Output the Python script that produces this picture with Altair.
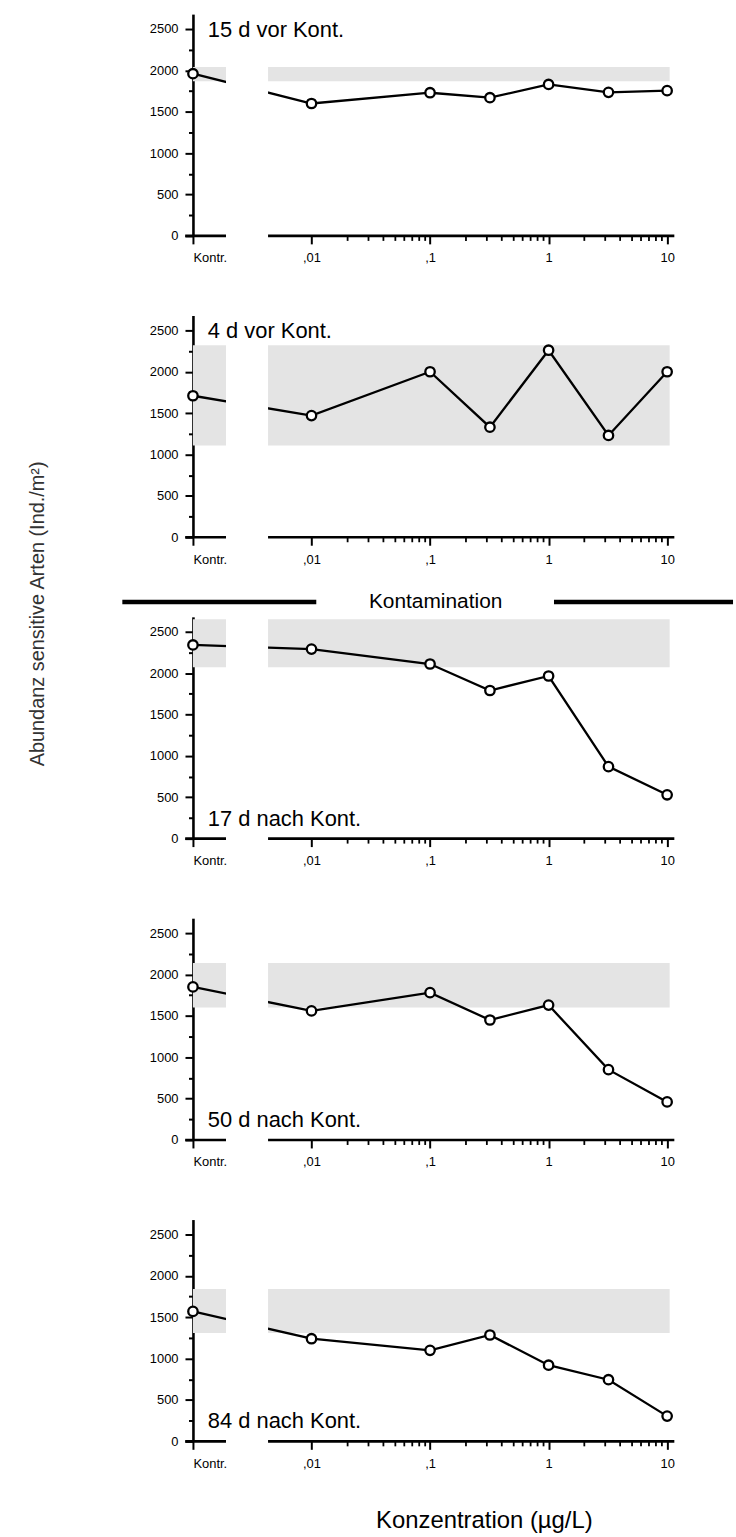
import altair as alt
import pandas as pd

# ---------------- data ----------------
PANEL_LABELS = ["15 d vor Kont.", "4 d vor Kont.", "17 d nach Kont.",
                "50 d nach Kont.", "84 d nach Kont."]
LABEL_POS = ["top", "top", "bottom", "bottom", "bottom"]
CONC = [0.01, 0.1, 0.32, 1, 3.2, 10]
CONTROL = [1960, 1710, 2340, 1850, 1570]
VALUES = [
    [1600, 1730, 1670, 1830, 1735, 1755],
    [1470, 2000, 1330, 2260, 1230, 2000],
    [2290, 2110, 1790, 1965, 870, 530],
    [1560, 1780, 1450, 1630, 850, 460],
    [1240, 1100, 1285, 920, 745, 305],
]
BAND_LO = [1870, 1110, 2070, 1600, 1310]
BAND_HI = [2040, 2320, 2650, 2140, 1840]
Y_TICKS = [0, 500, 1000, 1500, 2000, 2500]
Y_MINOR = [250, 750, 1250, 1750, 2250]
X_TICKS = [0.001, 0.01, 0.1, 1, 10]
X_TICK_LABELS = ["Kontr.", ",01", ",1", "1", "10"]
X_MINOR = [2, 3, 4, 5, 6, 7, 8, 9]
X_DECADES = [0.01, 0.1, 1]
Y_TITLE = "Abundanz sensitive Arten (Ind./m²)"
X_TITLE = "Konzentration (µg/L)"
SEP_TEXT = "Kontamination"

# ---------------- layout constants ----------------
CTRL_X = 0.001
XMIN, XMAX = 0.001, 11.5
AXIS_LEFT = 0.00086
BREAK_LO, BREAK_HI = 0.0019, 0.0043
BAND_RIGHT = 10.5
YMAX = 2680
W, H = 484, 223
FONT = "Liberation Sans"
GRAY = "#e4e4e4"

xs = alt.Scale(type="log", domain=[XMIN, XMAX])
ys = alt.Scale(domain=[0, YMAX])

minor_x = [round(m * d, 4) for d in X_DECADES for m in X_MINOR]

label_expr = ""
for v, t in zip(X_TICKS[:-1], X_TICK_LABELS[:-1]):
    label_expr += f"datum.value < {v * 3} ? '{t}' : "
label_expr += f"'{X_TICK_LABELS[-1]}'"

x_major = alt.Axis(orient="bottom", values=X_TICKS, labelExpr=label_expr,
                   domain=False, grid=False, title=None, tickSize=8, tickWidth=2,
                   tickColor="black", labelFont=FONT, labelFontSize=13,
                   labelColor="black", labelPadding=8)
x_minor = alt.Axis(orient="bottom", values=minor_x, labels=False, domain=False,
                   grid=False, title=None, tickSize=4.5, tickWidth=1.8,
                   tickColor="black")
y_major = alt.Axis(orient="left", values=Y_TICKS, format="d", domain=True,
                   domainWidth=2.6, domainColor="black", grid=False, title=None,
                   tickSize=8, tickWidth=2, tickColor="black", labelFont=FONT,
                   labelFontSize=13, labelColor="black", labelPadding=7)
y_minor = alt.Axis(orient="left", values=Y_MINOR, labels=False, domain=False,
                   grid=False, title=None, tickSize=4.5, tickWidth=2,
                   tickColor="black")


def panel(i):
    pts = pd.DataFrame({"conc": [CTRL_X] + CONC,
                        "abund": [CONTROL[i]] + VALUES[i]})
    band_df = pd.DataFrame({"x0": [XMIN], "x1": [BAND_RIGHT],
                            "lo": [BAND_LO[i]], "hi": [BAND_HI[i]]})
    gap_df = pd.DataFrame({"x0": [BREAK_LO], "x1": [BREAK_HI],
                           "lo": [0], "hi": [YMAX]})
    seg_df = pd.DataFrame({"x0": [AXIS_LEFT, BREAK_HI], "x1": [BREAK_LO, XMAX],
                           "y": [0, 0]})
    lab_df = pd.DataFrame({"t": [PANEL_LABELS[i]]})

    band = alt.Chart(band_df).mark_rect(color=GRAY).encode(
        x=alt.X("x0:Q", scale=xs, axis=x_major), x2="x1:Q",
        y=alt.Y("lo:Q", scale=ys, axis=y_major), y2="hi:Q")
    line = alt.Chart(pts).mark_line(color="black", strokeWidth=2.3).encode(
        x=alt.X("conc:Q", scale=xs, axis=x_minor),
        y=alt.Y("abund:Q", scale=ys, axis=y_minor))
    gap = alt.Chart(gap_df).mark_rect(color="white").encode(
        x=alt.X("x0:Q", scale=xs, axis=None), x2="x1:Q",
        y=alt.Y("lo:Q", scale=ys, axis=None), y2="hi:Q")
    segs = alt.Chart(seg_df).mark_rule(color="black", strokeWidth=2.6).encode(
        x=alt.X("x0:Q", scale=xs, axis=None), x2="x1:Q",
        y=alt.Y("y:Q", scale=ys, axis=None))
    points = alt.Chart(pts).mark_point(shape="circle", filled=True, fill="white",
                                       stroke="black", strokeWidth=2.3,
                                       size=90, opacity=1).encode(
        x=alt.X("conc:Q", scale=xs, axis=None),
        y=alt.Y("abund:Q", scale=ys, axis=None))
    ly = 16 if LABEL_POS[i] == "top" else H - 20
    label = alt.Chart(lab_df).mark_text(align="left", baseline="middle",
                                        font=FONT, fontSize=22,
                                        color="black").encode(
        x=alt.value(15), y=alt.value(ly), text="t:N")

    layers = [band, line, gap, segs, points, label]

    if i == 2:
        sep_df = pd.DataFrame({"t": [SEP_TEXT]})
        sep_text = alt.Chart(sep_df).mark_text(font=FONT, fontSize=21,
                                               baseline="middle",
                                               color="black").encode(
            x=alt.value(244), y=alt.value(-15), text="t:N")
        sep_l = alt.Chart(sep_df).mark_rule(color="black", strokeWidth=4.5).encode(
            x=alt.value(-71), x2=alt.value(124), y=alt.value(-15))
        sep_r = alt.Chart(sep_df).mark_rule(color="black", strokeWidth=4.5).encode(
            x=alt.value(363), x2=alt.value(543), y=alt.value(-15))
        yt_df = pd.DataFrame({"t": [Y_TITLE]})
        ytitle = alt.Chart(yt_df).mark_text(font=FONT, fontSize=20, angle=270,
                                            baseline="middle", align="center",
                                            color="#333333").encode(
            x=alt.value(-156), y=alt.value(-3), text="t:N")
        layers += [sep_l, sep_r, sep_text, ytitle]
    if i == 4:
        xt_df = pd.DataFrame({"t": [X_TITLE]})
        xtitle = alt.Chart(xt_df).mark_text(font=FONT, fontSize=24,
                                            baseline="middle", align="center",
                                            color="black").encode(
            x=alt.value(293), y=alt.value(303), text="t:N")
        layers += [xtitle]

    return alt.layer(*layers).resolve_axis(x="independent", y="independent") \
        .properties(width=W, height=H)


chart = alt.vconcat(*[panel(i) for i in range(5)], spacing=80,
                    bounds="flush").properties(
    padding={"left": 27, "top": 10, "right": 0, "bottom": 5}
).configure(font=FONT, view=alt.ViewConfig(stroke=None))

chart.save("out.html", embed_options={"renderer": "svg", "actions": False})
